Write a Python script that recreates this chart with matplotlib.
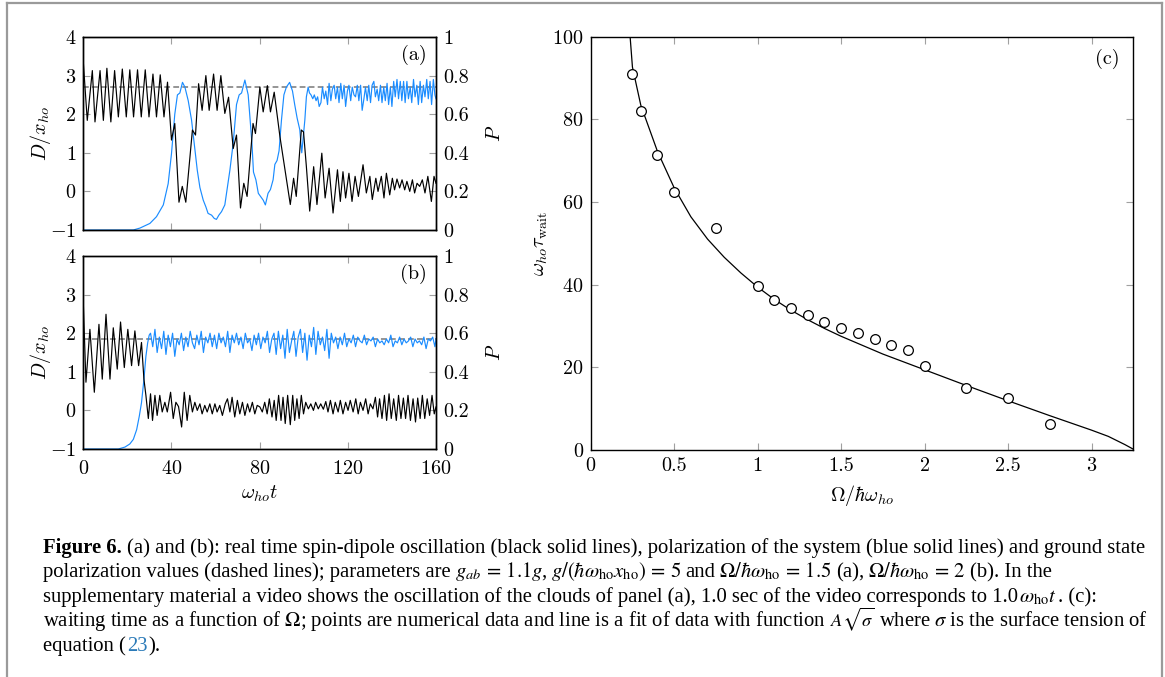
import matplotlib
matplotlib.use("Agg")
import matplotlib.pyplot as plt
from matplotlib.lines import Line2D

plt.rcParams["font.family"] = "serif"
plt.rcParams["font.serif"] = ["cmr10"]
plt.rcParams["mathtext.fontset"] = "cm"
plt.rcParams["axes.formatter.use_mathtext"] = True
plt.rcParams["axes.unicode_minus"] = True

# panel (a): spin-dipole oscillation D(t) (black) and polarization P(t) (blue)
a_D = [(0, 3.35), (1.8, 1.84), (4.1, 3.13), (5.3, 1.80), (7.6, 3.13), (9.1, 1.84), (10.7, 3.19),
       (12.5, 1.80), (14.2, 3.13), (15.9, 1.93), (17.7, 3.17), (19.5, 1.93), (21.1, 3.15),
       (22.8, 1.93), (24.6, 3.15), (26.3, 1.93), (28.1, 3.15), (29.8, 1.93), (31.6, 3.04),
       (33.2, 1.93), (34.9, 3.02), (36.6, 1.93), (38.2, 2.83), (40.0, 1.33), (41.5, 1.76),
       (43.4, -0.28), (44.9, 0.13), (46.5, -0.28), (49.5, 1.59), (50.9, 1.46), (52.3, 2.79),
       (53.9, 2.10), (55.6, 3.0), (57.1, 2.10), (59.1, 3.04), (60.7, 2.10), (62.4, 3.0),
       (64.2, 2.02), (65.9, 2.44), (68.0, 1.11), (69.5, 1.46), (71.3, -0.43), (72.8, 0.21),
       (74.3, -0.13), (77.0, 1.76), (78.1, 1.50), (80.1, 2.70), (81.6, 2.06), (83.5, 2.74),
       (84.9, 2.06), (86.6, 2.57), (89.2, 1.42), (93.9, -0.34), (95.4, 0.34), (96.6, -0.13),
       (98.9, 1.59), (99.9, 1.54), (101.2, 0.64), (102.7, -0.51), (104.5, 0.64), (106.0, -0.34),
       (108.2, 0.99), (109.7, -0.17), (111.5, 0.60), (113.3, -0.56), (115.3, 0.56),
       (116.6, -0.26), (117.8, 0.51), (119.0, -0.17), (120.5, 0.47), (121.9, -0.26),
       (123.3, 0.39), (124.8, -0.13), (126.9, 0.69), (128.4, -0.04), (130.0, 0.39),
       (131.1, -0.21), (132.7, 0.34), (133.7, 0.0), (135.2, 0.39), (136.4, -0.17), (137.5, 0.47),
       (139.0, -0.09), (140.2, 0.34), (141.2, 0.04), (142.3, 0.32), (143.5, 0.09), (144.6, 0.30),
       (145.8, 0.04), (146.8, 0.26), (148.1, 0.0), (149.3, 0.30), (150.3, -0.04), (151.4, 0.21),
       (152.6, 0.13), (153.8, 0.30), (155.0, -0.04), (156.3, 0.39), (157.9, -0.26),
       (159.1, 0.39), (160.0, 0.21)]

a_P = [(0, 0.0), (22.7, 0.0), (25.7, 0.01), (30.2, 0.034), (33.2, 0.069), (36.3, 0.13),
       (38.5, 0.24), (40.0, 0.395), (41.5, 0.60), (42.7, 0.70), (43.8, 0.71), (45.0, 0.765),
       (46.1, 0.74), (47.6, 0.67), (49.1, 0.57), (50.3, 0.45), (51.7, 0.31), (52.9, 0.22),
       (54.4, 0.155), (55.6, 0.12), (56.6, 0.086), (58.2, 0.077), (59.4, 0.06), (60.4, 0.055),
       (61.5, 0.077), (62.7, 0.095), (64.2, 0.13), (66.5, 0.31), (68.0, 0.45), (69.5, 0.65),
       (70.7, 0.70), (71.8, 0.71), (73.3, 0.777), (74.8, 0.70), (75.5, 0.60), (76.5, 0.45),
       (77.2, 0.30), (78.3, 0.26), (79.4, 0.19), (81.6, 0.155), (82.6, 0.13), (83.8, 0.19),
       (84.9, 0.21), (86.1, 0.26), (86.9, 0.34), (87.9, 0.36), (88.8, 0.41), (89.9, 0.57),
       (91.0, 0.70), (92.1, 0.74), (93.6, 0.765), (94.9, 0.72), (95.9, 0.65), (97.0, 0.58),
       (98.2, 0.52), (99.1, 0.40), (100.5, 0.57), (101.2, 0.69), (102.0, 0.74),
       (102.6, 0.71), (103.3, 0.70), (104.1, 0.68), (104.8, 0.70), (105.6, 0.67), (106.3, 0.69),
       (107.0, 0.64), (107.8, 0.66), (108.5, 0.74), (109.3, 0.68), (110.0, 0.72), (110.8, 0.65),
       (111.5, 0.76), (112.3, 0.67), (113.0, 0.73), (113.8, 0.75), (114.5, 0.68), (115.3, 0.74),
       (116.0, 0.66), (116.8, 0.76), (117.5, 0.68), (118.3, 0.75), (119.0, 0.64), (119.8, 0.72),
       (120.5, 0.75), (121.3, 0.67), (122.0, 0.74), (122.8, 0.70), (123.5, 0.69), (124.3, 0.75),
       (125.0, 0.67), (125.8, 0.75), (126.5, 0.62), (127.3, 0.68), (128.0, 0.74), (128.8, 0.67),
       (129.5, 0.75), (130.3, 0.66), (131.0, 0.75), (131.8, 0.77), (132.5, 0.69), (133.3, 0.73),
       (134.0, 0.67), (134.8, 0.75), (135.5, 0.66), (136.3, 0.74), (137.0, 0.67), (137.8, 0.76),
       (138.5, 0.65), (139.3, 0.74), (140.0, 0.64), (140.8, 0.77), (141.5, 0.69), (142.3, 0.78),
       (143.0, 0.68), (143.8, 0.77), (144.5, 0.67), (145.3, 0.77), (146.0, 0.66), (146.8, 0.77),
       (147.5, 0.68), (148.3, 0.74), (149.0, 0.66), (149.8, 0.78), (150.5, 0.69), (151.3, 0.75),
       (152.0, 0.65), (152.8, 0.77), (153.5, 0.66), (154.3, 0.75), (155.0, 0.69), (155.8, 0.78),
       (156.5, 0.68), (157.3, 0.77), (158.0, 0.65), (158.8, 0.78), (159.5, 0.70), (160.0, 0.68)]
a_P_ground = 0.74

# panel (b)
b_D = [(0, 2.79), (1.2, 0.73), (3.0, 2.10), (5.0, 0.47), (7.1, 2.23), (8.6, 0.81), (10.3, 2.49),
       (12.1, 0.81), (13.6, 2.14), (15.4, 1.07), (16.9, 2.29), (18.6, 1.11), (20.2, 2.10),
       (21.9, 1.16), (23.4, 2.06), (25.1, 1.16), (26.4, 1.76), (27.5, 0.81), (28.4, 0.39),
       (29.5, -0.21), (30.5, 0.43), (31.4, -0.26), (32.5, 0.39), (33.5, -0.13), (34.7, 0.39),
       (35.8, -0.04), (37.0, 0.21), (38.1, -0.04), (39.6, 0.47), (40.8, -0.21), (42.0, 0.21),
       (43.2, 0.10), (44.6, -0.43), (45.8, 0.47), (47.1, -0.26), (48.3, 0.39), (49.5, -0.04),
       (50.6, 0.21), (51.7, 0.0), (52.9, 0.17), (53.9, -0.09), (55.1, 0.13), (56.2, -0.04),
       (57.4, 0.17), (58.5, -0.09), (59.7, 0.17), (60.7, -0.04), (61.9, 0.13), (63.1, -0.13),
       (64.4, 0.17), (65.4, 0.30), (66.5, -0.04), (67.5, 0.34), (68.7, -0.17), (69.9, 0.26),
       (71.0, -0.09), (72.2, 0.21), (73.3, -0.13), (74.5, 0.17), (75.5, -0.04), (76.7, 0.21),
       (77.8, -0.09), (78.9, 0.13), (80.1, 0.09), (81.2, -0.04), (82.3, 0.21), (83.4, -0.09),
       (84.4, 0.30), (85.6, -0.17), (86.6, 0.26), (87.5, -0.26), (88.6, 0.39), (89.7, -0.26),
       (90.6, 0.34), (91.6, -0.34), (92.7, 0.39), (93.9, -0.37), (95.0, 0.39), (95.9, -0.26),
       (96.9, 0.30), (97.9, -0.21), (98.9, 0.39), (99.9, -0.09), (100.9, 0.21), (102.1, 0.04),
       (103.2, 0.17), (104.4, 0.0), (105.4, 0.21), (106.6, 0.04), (107.7, 0.17), (108.9, 0.03),
       (110.0, 0.23), (111.0, -0.04), (112.1, 0.26), (113.3, -0.09), (114.3, 0.21),
       (115.6, -0.04), (116.6, 0.26), (117.8, -0.09), (119.0, 0.21), (120.1, 0.0), (121.1, 0.26),
       (122.4, -0.04), (123.6, 0.30), (124.7, -0.09), (125.7, 0.21), (126.9, 0.0), (128.1, 0.30),
       (129.2, -0.09), (130.2, 0.17), (131.4, 0.04), (132.5, 0.34), (133.5, -0.17), (134.4, 0.30),
       (135.5, -0.21), (136.6, 0.39), (137.6, -0.26), (138.7, 0.43), (139.7, -0.21), (140.8, 0.30),
       (142.0, -0.26), (143.0, 0.39), (144.1, -0.21), (145.2, 0.32), (146.2, -0.21), (147.3, 0.39),
       (148.4, -0.26), (149.6, 0.30), (150.7, -0.30), (151.7, 0.32), (152.8, -0.21), (153.8, 0.39),
       (154.9, -0.21), (156.0, 0.30), (157.1, -0.13), (158.2, 0.39), (159.2, -0.09), (160.0, 0.09)]

b_P = [(0, 0.0), (15.9, 0.0), (18.9, 0.01), (21.1, 0.026), (22.7, 0.05), (24.2, 0.10),
       (25.4, 0.17), (26.4, 0.24), (27.5, 0.36), (28.4, 0.48), (29.2, 0.55), (29.9, 0.59),
       (30.5, 0.60), (31.5, 0.53), (32.5, 0.62), (33.5, 0.50), (34.5, 0.58), (35.5, 0.52),
       (36.5, 0.61), (37.5, 0.49), (38.5, 0.59), (39.5, 0.53), (40.5, 0.60), (41.5, 0.48),
       (42.5, 0.57), (43.5, 0.54), (44.5, 0.60), (45.5, 0.51), (46.5, 0.58), (47.5, 0.53),
       (48.5, 0.61), (49.5, 0.55), (50.5, 0.52), (51.5, 0.59), (52.5, 0.54), (53.5, 0.61),
       (54.5, 0.50), (55.5, 0.58), (56.5, 0.55), (57.5, 0.60), (58.5, 0.53), (59.5, 0.59),
       (60.5, 0.52), (61.5, 0.60), (62.5, 0.55), (63.5, 0.58), (64.5, 0.53), (65.5, 0.61),
       (66.5, 0.50), (67.5, 0.59), (68.5, 0.55), (69.5, 0.60), (70.5, 0.54), (71.5, 0.58),
       (72.5, 0.52), (73.5, 0.60), (74.5, 0.55), (75.5, 0.57), (76.5, 0.51), (77.5, 0.59),
       (78.5, 0.54), (79.5, 0.60), (80.5, 0.52), (81.5, 0.58), (82.5, 0.55), (83.5, 0.61),
       (84.5, 0.50), (85.5, 0.57), (86.5, 0.60), (87.5, 0.49), (88.5, 0.61), (89.5, 0.52),
       (90.5, 0.59), (91.5, 0.47), (92.5, 0.62), (93.5, 0.50), (94.5, 0.56), (95.5, 0.61),
       (96.5, 0.48), (97.5, 0.58), (98.5, 0.62), (99.5, 0.50), (100.5, 0.60), (101.5, 0.46),
       (102.5, 0.59), (103.5, 0.53), (104.5, 0.63), (105.5, 0.49), (106.5, 0.61), (107.5, 0.54),
       (108.5, 0.58), (109.5, 0.51), (110.5, 0.62), (111.5, 0.47), (112.5, 0.60), (113.5, 0.55),
       (114.5, 0.58), (115.5, 0.52), (116.5, 0.58), (117.5, 0.54), (118.5, 0.60), (119.5, 0.53),
       (120.5, 0.57), (121.5, 0.55), (122.5, 0.59), (123.5, 0.53), (124.5, 0.58), (125.5, 0.56),
       (126.5, 0.55), (127.5, 0.59), (128.5, 0.54), (129.5, 0.57), (130.5, 0.56), (131.5, 0.58),
       (132.5, 0.53), (133.5, 0.57), (134.5, 0.55), (135.5, 0.56), (136.5, 0.54), (137.5, 0.57),
       (138.5, 0.55), (139.5, 0.59), (140.5, 0.53), (141.5, 0.56), (142.5, 0.55), (143.5, 0.58),
       (144.5, 0.54), (145.5, 0.57), (146.5, 0.55), (147.5, 0.56), (148.5, 0.58), (149.5, 0.53),
       (150.5, 0.57), (151.5, 0.55), (152.5, 0.56), (153.5, 0.54), (154.5, 0.58), (155.5, 0.52),
       (156.5, 0.57), (157.5, 0.56), (158.5, 0.58), (159.5, 0.53), (160.0, 0.57)]
b_P_ground = 0.57

# panel (c): waiting time vs Omega, data points and fit
c_omega = [0.25, 0.30, 0.40, 0.50, 0.75, 1.0, 1.1, 1.2, 1.3, 1.4, 1.5, 1.6, 1.7, 1.8, 1.9,
           2.0, 2.25, 2.5, 2.75]
c_tau = [91.0, 82.1, 71.3, 62.3, 53.6, 39.7, 36.3, 34.3, 32.6, 31.0, 29.6, 28.2, 26.8, 25.5,
         24.2, 20.3, 14.9, 12.6, 6.3]
fit_omega = [0.236, 0.25, 0.30, 0.40, 0.50, 0.60, 0.70, 0.80, 0.90, 1.0, 1.1, 1.2, 1.3, 1.4,
             1.5, 1.75, 2.0, 2.25, 2.5, 2.75, 3.0, 3.1, 3.2, 3.25]
fit_tau = [100, 92.6, 83.4, 72.2, 63.4, 56.4, 51.0, 46.6, 42.8, 39.4, 36.4, 33.8, 31.5, 29.4,
           27.5, 23.2, 19.4, 15.6, 11.9, 8.3, 4.8, 3.3, 1.3, 0.2]

W, H = 1165, 677
BLUE = "#1a8cff"
TICKC = "#a0a0a0"
FS = 14.5

fig = plt.figure(figsize=(W / 100, H / 100), dpi=100)


def px_axes(left, top, right, bottom):
    return fig.add_axes([left / W, 1 - bottom / H, (right - left) / W, (bottom - top) / H])


def style(ax, **kw):
    ax.tick_params(direction="in", length=5, width=0.8, color=TICKC, labelsize=FS, pad=5, **kw)
    for s in ax.spines.values():
        s.set_linewidth(1.0)


def time_panel(top, bottom, D, P, P0, tag, show_x):
    ax = px_axes(83.3, top, 436, bottom)
    t, d = zip(*D)
    ax.plot(t, d, color="black", lw=0.85, zorder=3)
    ax.set_xlim(0, 160)
    ax.set_ylim(-1, 4)
    ax.set_xticks([0, 40, 80, 120, 160])
    ax.set_yticks([-1, 0, 1, 2, 3, 4])
    style(ax, top=True, bottom=True, left=True, right=False, labelbottom=show_x)
    ax.set_ylabel(r"$D/x_{ho}$", fontsize=FS)
    ax.yaxis.set_label_coords(-0.086, 0.5)
    ax2 = ax.twinx()
    tp, p = zip(*P)
    ax2.plot(tp, p, color=BLUE, lw=0.85, zorder=2)
    ax2.axhline(P0, color="#8c8c8c", lw=1.3, dashes=(3.2, 1.8), zorder=1)
    ax2.set_ylim(0, 1)
    ax2.set_yticks([0, 0.2, 0.4, 0.6, 0.8, 1])
    ax2.set_yticklabels(["0", "0.2", "0.4", "0.6", "0.8", "1"])
    style(ax2, left=False, right=True, top=False, bottom=False)
    ax2.set_ylabel(r"$P$", fontsize=FS)
    ax2.yaxis.set_label_coords(1.142, 0.5)
    ax2.text(0.975, 0.905, tag, transform=ax2.transAxes, ha="right", va="center", fontsize=FS)
    ax.set_zorder(ax2.get_zorder() + 1)
    ax.patch.set_visible(False)
    return ax


time_panel(37, 230, a_D, a_P, a_P_ground, "(a)", False)
axb = time_panel(256, 449, b_D, b_P, b_P_ground, "(b)", True)
axb.tick_params(axis="x", pad=8)
axb.set_xlabel(r"$\omega_{ho}t$", fontsize=FS, labelpad=4)

axc = px_axes(590.7, 36.5, 1133.3, 450)
axc.plot(fit_omega, fit_tau, color="black", lw=0.9)
axc.plot(c_omega, c_tau, "o", mfc="white", mec="black", ms=7, mew=0.9)
axc.set_xlim(0, 3.25)
axc.set_ylim(0, 100)
axc.set_xticks([0, 0.5, 1, 1.5, 2, 2.5, 3])
axc.set_xticklabels(["0", "0.5", "1", "1.5", "2", "2.5", "3"])
axc.set_yticks([0, 20, 40, 60, 80, 100])
style(axc, top=True, right=True)
axc.set_xlabel(r"$\Omega/\hbar\omega_{ho}$", fontsize=FS, labelpad=6)
axc.set_ylabel(r"$\omega_{ho}\tau_{\rm wait}$", fontsize=FS)
axc.yaxis.set_label_coords(-0.075, 0.5)
axc.text(0.975, 0.945, "(c)", transform=axc.transAxes, ha="right", va="center", fontsize=FS)

# frame around the figure
fc = "#9a9a9a"
for xs, ys in [([6.5, 6.5], [H, 3]), ([6.5, 1162], [3, 3]), ([1162, 1162], [3, H])]:
    fig.add_artist(Line2D([x / W for x in xs], [1 - y / H for y in ys], color=fc, lw=1.6,
                          transform=fig.transFigure))

# caption
CAP = dict(family="Liberation Serif", math_fontfamily="stix")
CFS = 14.85
renderer = fig.canvas.get_renderer()
SP = 4


def segments(x, y, parts):
    for s, kw, gap in parts:
        kw = dict(kw)
        size = kw.pop("size", CFS)
        txt = fig.text(x / W, 1 - y / H, s, va="baseline", fontsize=size, **CAP, **kw)
        x += txt.get_window_extent(renderer).width + gap


segments(43, 553, [("Figure 6.", dict(fontweight="bold"), 5),
                   ("(a) and (b): real time spin-dipole oscillation (black solid lines), "
                    "polarization of the system (blue solid lines) and ground state", {}, 0)])
segments(43, 577, [("polarization values (dashed lines); parameters are", {}, SP),
                   (r"$g_{ab}\,=\,1.1g$,", {}, SP),
                   (r"$g/(\hbar\omega_{\rm ho}x_{\rm ho})\,=\,5$", {}, SP),
                   ("and", {}, SP),
                   (r"$\Omega/\hbar\omega_{\rm ho}\,=\,1.5$", {}, SP),
                   ("(a),", {}, SP),
                   (r"$\Omega/\hbar\omega_{\rm ho}\,=\,2$", {}, SP),
                   ("(b). In the", {}, 0)])
segments(43, 602, [("supplementary material a video shows the oscillation of the clouds of panel (a), "
                    "1.0 sec of the video corresponds to 1.0", {}, 1),
                   (r"$\omega_{\rm ho}t$", {}, 1), (". (c):", {}, 0)])
segments(43, 626, [(r"waiting time as a function of $\Omega$; points are numerical data and line is a fit "
                    "of data with function", {}, SP),
                   (r"$A\sqrt{\sigma}$", dict(size=13.2), SP),
                   (r"where $\sigma$ is the surface tension of", {}, 0)])
segments(43, 651, [("equation (", {}, 1), ("23", dict(color="#2a7ab8"), 1), (").", {}, 0)])

fig.savefig("out.png", dpi=100)
